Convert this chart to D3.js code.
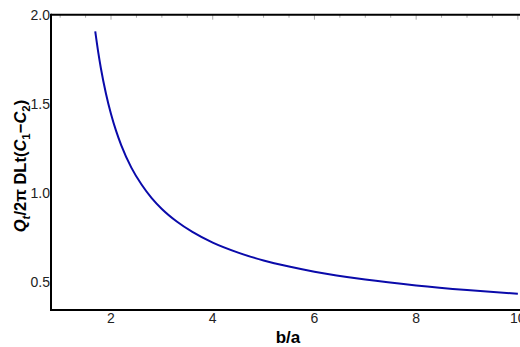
<!DOCTYPE html>
<html>
<head>
<meta charset="utf-8">
<script src="https://cdn.jsdelivr.net/npm/d3@7"></script>
<style>
  html, body { margin: 0; padding: 0; background: #fff; }
  svg { display: block; font-family: "Liberation Sans", Arial, sans-serif; }
</style>
</head>
<body>
<div id="chart"></div>
<script>
// values
const ratio = [1.69, 1.75, 1.8, 1.9, 2.0, 2.1, 2.2, 2.4, 2.6, 2.8, 3.0, 3.3, 3.6, 4.0, 4.5, 5.0, 5.5, 6.0, 7.0, 8.0, 9.0, 10.0];
const flux = [1.906, 1.787, 1.701, 1.558, 1.443, 1.348, 1.268, 1.142, 1.047, 0.971, 0.910, 0.838, 0.781, 0.721, 0.665, 0.621, 0.587, 0.558, 0.514, 0.481, 0.455, 0.434];
const xTicks = [2, 4, 6, 8, 10];
const yTicks = [0.5, 1.0, 1.5, 2.0];

const width = 520, height = 347;

const x = d3.scaleLinear().domain([0.82, 10.05]).range([51, 520.4]);
const y = d3.scaleLinear().domain([0.343, 2.0]).range([310, 14.7]);

const svg = d3.select("#chart")
    .append("svg")
    .attr("width", width)
    .attr("height", height);

// top frame ticks (inward)
const minor = d3.range(1, 10.01, 0.5);
svg.append("g")
    .selectAll("line")
    .data(minor)
    .join("line")
    .attr("x1", d => x(d)).attr("x2", d => x(d))
    .attr("y1", y(2.0))
    .attr("y2", d => y(2.0) + (d % 2 === 0 ? 5 : 3))
    .attr("stroke", "#aaa")
    .attr("stroke-width", 1);

// frame
svg.append("line")
    .attr("x1", x(0.82)).attr("x2", width)
    .attr("y1", y(2.0)).attr("y2", y(2.0))
    .attr("stroke", "#000").attr("stroke-width", 2);
svg.append("line")
    .attr("x1", x(0.82)).attr("x2", width)
    .attr("y1", y(0.343)).attr("y2", y(0.343))
    .attr("stroke", "#000").attr("stroke-width", 2);
svg.append("line")
    .attr("x1", x(0.82)).attr("x2", x(0.82))
    .attr("y1", y(2.0) - 1).attr("y2", y(0.343) + 1)
    .attr("stroke", "#000").attr("stroke-width", 2);

// tick labels
svg.append("g")
    .selectAll("text")
    .data(xTicks)
    .join("text")
    .attr("x", d => x(d))
    .attr("y", 323)
    .attr("text-anchor", "middle")
    .attr("font-size", 14)
    .attr("fill", "#222")
    .text(d => d);

svg.append("g")
    .selectAll("text")
    .data(yTicks)
    .join("text")
    .attr("x", 50)
    .attr("y", d => y(d))
    .attr("dy", "0.35em")
    .attr("text-anchor", "end")
    .attr("font-size", 14)
    .attr("fill", "#222")
    .text(d => d.toFixed(1));

// curve
const line = d3.line()
    .x((d, i) => x(ratio[i]))
    .y(d => y(d))
    .curve(d3.curveMonotoneX);

svg.append("path")
    .attr("d", line(flux))
    .attr("fill", "none")
    .attr("stroke", "#0a0aaa")
    .attr("stroke-width", 2);

// axis titles
svg.append("text")
    .attr("x", 288)
    .attr("y", 343)
    .attr("text-anchor", "middle")
    .attr("font-size", 17)
    .attr("font-weight", "bold")
    .text("b/a");

const yl = svg.append("text")
    .attr("transform", "translate(26,166) rotate(-90)")
    .attr("text-anchor", "middle")
    .attr("font-size", 16.5)
    .attr("font-weight", "bold");
yl.append("tspan").attr("font-style", "italic").text("Q");
yl.append("tspan").attr("font-style", "italic").attr("font-size", 11.5).attr("dy", 4).text("t");
yl.append("tspan").attr("dy", -4).text("/2π DLt(");
yl.append("tspan").attr("font-style", "italic").text("C");
yl.append("tspan").attr("font-size", 11.5).attr("dy", 4).text("1");
yl.append("tspan").attr("dy", -4).text("−");
yl.append("tspan").attr("font-style", "italic").text("C");
yl.append("tspan").attr("font-size", 11.5).attr("dy", 4).text("2");
yl.append("tspan").attr("dy", -4).text(")");
</script>
</body>
</html>
